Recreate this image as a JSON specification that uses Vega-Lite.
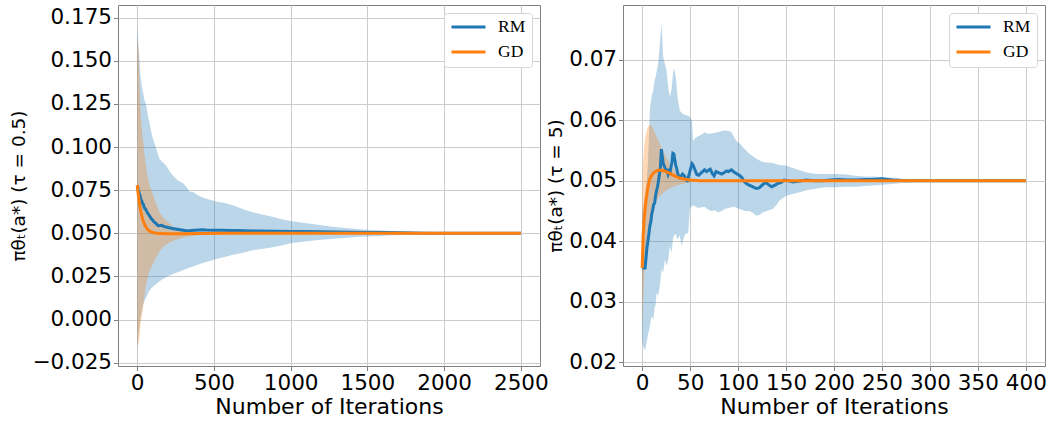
{
"$schema": "https://vega.github.io/schema/vega-lite/v6.json",
"background": "white",
"padding": {"left": 9, "top": 4, "right": 5, "bottom": 3},
"config": {
  "font": "DejaVu Sans",
  "view": {"stroke": "#808080", "strokeWidth": 1},
  "axis": {"labelFont": "DejaVu Sans", "labelFontSize": 21.5, "labelColor": "black", "titleFont": "DejaVu Sans", "titleFontSize": 22, "titleFontWeight": "normal", "titleColor": "black", "tickColor": "#808080", "tickSize": 4.5, "labelPadding": 2, "domain": false, "grid": true, "gridColor": "#cccccc", "gridWidth": 1},
  "legend": {"orient": "top-right", "offset": 8, "symbolType": "stroke", "symbolStrokeWidth": 3, "symbolSize": 1156, "clipHeight": 16, "labelFont": "Liberation Serif", "labelFontSize": 17.5, "labelColor": "black", "padding": 6, "strokeColor": "#d5d5d5", "fillColor": "white", "cornerRadius": 3, "rowPadding": 7, "labelOffset": 11}
},
"datasets": {
  "leftLines": [
    {"s":"RM","t":0,"v":0.0775},{"s":"RM","t":3,"v":0.0770},{"s":"RM","t":6,"v":0.0752},{"s":"RM","t":10,"v":0.0745},{"s":"RM","t":14,"v":0.0728},{"s":"RM","t":18,"v":0.0722},{"s":"RM","t":22,"v":0.0705},{"s":"RM","t":26,"v":0.0693},{"s":"RM","t":30,"v":0.0688},{"s":"RM","t":35,"v":0.0672},{"s":"RM","t":40,"v":0.0668},{"s":"RM","t":45,"v":0.0652},{"s":"RM","t":50,"v":0.0644},{"s":"RM","t":55,"v":0.0640},{"s":"RM","t":60,"v":0.0630},{"s":"RM","t":65,"v":0.0622},{"s":"RM","t":70,"v":0.0614},{"s":"RM","t":75,"v":0.0610},{"s":"RM","t":80,"v":0.0601},{"s":"RM","t":85,"v":0.0595},{"s":"RM","t":90,"v":0.0586},{"s":"RM","t":95,"v":0.0582},{"s":"RM","t":100,"v":0.0578},{"s":"RM","t":105,"v":0.0571},{"s":"RM","t":110,"v":0.0566},{"s":"RM","t":115,"v":0.0563},{"s":"RM","t":120,"v":0.0559},{"s":"RM","t":125,"v":0.0555},{"s":"RM","t":130,"v":0.0549},{"s":"RM","t":135,"v":0.0546},{"s":"RM","t":140,"v":0.0544},{"s":"RM","t":150,"v":0.0545},{"s":"RM","t":160,"v":0.0546},{"s":"RM","t":170,"v":0.0542},{"s":"RM","t":180,"v":0.0538},{"s":"RM","t":190,"v":0.0536},{"s":"RM","t":200,"v":0.0534},{"s":"RM","t":215,"v":0.0531},{"s":"RM","t":230,"v":0.0528},{"s":"RM","t":250,"v":0.0525},{"s":"RM","t":270,"v":0.0522},{"s":"RM","t":290,"v":0.0519},{"s":"RM","t":310,"v":0.0516},{"s":"RM","t":330,"v":0.0515},{"s":"RM","t":350,"v":0.0516},{"s":"RM","t":375,"v":0.0518},{"s":"RM","t":400,"v":0.0519},{"s":"RM","t":425,"v":0.0520},{"s":"RM","t":450,"v":0.0519},{"s":"RM","t":500,"v":0.0518},{"s":"RM","t":550,"v":0.0518},{"s":"RM","t":600,"v":0.0516},{"s":"RM","t":650,"v":0.0516},{"s":"RM","t":700,"v":0.0515},{"s":"RM","t":750,"v":0.0514},{"s":"RM","t":800,"v":0.0513},{"s":"RM","t":900,"v":0.0512},{"s":"RM","t":1000,"v":0.0511},{"s":"RM","t":1100,"v":0.0510},{"s":"RM","t":1200,"v":0.0509},{"s":"RM","t":1300,"v":0.0508},{"s":"RM","t":1400,"v":0.0506},{"s":"RM","t":1500,"v":0.0505},{"s":"RM","t":1600,"v":0.0504},{"s":"RM","t":1700,"v":0.0503},{"s":"RM","t":1800,"v":0.0502},{"s":"RM","t":1900,"v":0.0501},{"s":"RM","t":2000,"v":0.0501},{"s":"RM","t":2200,"v":0.0500},{"s":"RM","t":2500,"v":0.0500},
    {"s":"GD","t":0,"v":0.0780},{"s":"GD","t":3,"v":0.0755},{"s":"GD","t":6,"v":0.0733},{"s":"GD","t":10,"v":0.0705},{"s":"GD","t":15,"v":0.0672},{"s":"GD","t":20,"v":0.0645},{"s":"GD","t":25,"v":0.0622},{"s":"GD","t":30,"v":0.0602},{"s":"GD","t":35,"v":0.0585},{"s":"GD","t":40,"v":0.0570},{"s":"GD","t":50,"v":0.0548},{"s":"GD","t":60,"v":0.0532},{"s":"GD","t":70,"v":0.0521},{"s":"GD","t":80,"v":0.0514},{"s":"GD","t":90,"v":0.0509},{"s":"GD","t":100,"v":0.0505},{"s":"GD","t":115,"v":0.0502},{"s":"GD","t":130,"v":0.0500},{"s":"GD","t":150,"v":0.0499},{"s":"GD","t":200,"v":0.0497},{"s":"GD","t":300,"v":0.0498},{"s":"GD","t":400,"v":0.0499},{"s":"GD","t":600,"v":0.0500},{"s":"GD","t":2500,"v":0.0500}
  ],
  "leftBands": [
    {"s":"RM","t":0,"lo":-0.018,"hi":0.170},{"s":"RM","t":3,"lo":-0.015,"hi":0.166},{"s":"RM","t":6,"lo":-0.011,"hi":0.161},{"s":"RM","t":11,"lo":-0.0065,"hi":0.155},{"s":"RM","t":16,"lo":-0.002,"hi":0.149},{"s":"RM","t":20,"lo":0.000,"hi":0.143},{"s":"RM","t":26,"lo":0.0032,"hi":0.138},{"s":"RM","t":32,"lo":0.006,"hi":0.134},{"s":"RM","t":37,"lo":0.008,"hi":0.132},{"s":"RM","t":48,"lo":0.0109,"hi":0.127},{"s":"RM","t":59,"lo":0.013,"hi":0.124},{"s":"RM","t":70,"lo":0.015,"hi":0.118},{"s":"RM","t":80,"lo":0.0167,"hi":0.114},{"s":"RM","t":91,"lo":0.018,"hi":0.109},{"s":"RM","t":102,"lo":0.019,"hi":0.105},{"s":"RM","t":113,"lo":0.0198,"hi":0.102},{"s":"RM","t":124,"lo":0.0206,"hi":0.099},{"s":"RM","t":135,"lo":0.0215,"hi":0.096},{"s":"RM","t":146,"lo":0.0222,"hi":0.093},{"s":"RM","t":167,"lo":0.0235,"hi":0.091},{"s":"RM","t":189,"lo":0.0245,"hi":0.0893},{"s":"RM","t":211,"lo":0.0255,"hi":0.086},{"s":"RM","t":233,"lo":0.0264,"hi":0.0835},{"s":"RM","t":265,"lo":0.0275,"hi":0.0806},{"s":"RM","t":300,"lo":0.0288,"hi":0.0790},{"s":"RM","t":320,"lo":0.0293,"hi":0.0770},{"s":"RM","t":340,"lo":0.0300,"hi":0.0742},{"s":"RM","t":363,"lo":0.0308,"hi":0.0740},{"s":"RM","t":407,"lo":0.0322,"hi":0.0715},{"s":"RM","t":450,"lo":0.0333,"hi":0.0700},{"s":"RM","t":515,"lo":0.0351,"hi":0.0685},{"s":"RM","t":570,"lo":0.0363,"hi":0.0675},{"s":"RM","t":624,"lo":0.0376,"hi":0.0662},{"s":"RM","t":690,"lo":0.0388,"hi":0.0640},{"s":"RM","t":743,"lo":0.0400,"hi":0.0625},{"s":"RM","t":800,"lo":0.0408,"hi":0.0612},{"s":"RM","t":874,"lo":0.0418,"hi":0.0597},{"s":"RM","t":940,"lo":0.0430,"hi":0.0582},{"s":"RM","t":1000,"lo":0.0442,"hi":0.0571},{"s":"RM","t":1090,"lo":0.0452,"hi":0.0560},{"s":"RM","t":1178,"lo":0.0461,"hi":0.0550},{"s":"RM","t":1260,"lo":0.0467,"hi":0.0540},{"s":"RM","t":1352,"lo":0.0473,"hi":0.0531},{"s":"RM","t":1420,"lo":0.0478,"hi":0.0526},{"s":"RM","t":1500,"lo":0.0482,"hi":0.0521},{"s":"RM","t":1580,"lo":0.0485,"hi":0.0517},{"s":"RM","t":1657,"lo":0.0488,"hi":0.0514},{"s":"RM","t":1740,"lo":0.0490,"hi":0.0511},{"s":"RM","t":1830,"lo":0.0492,"hi":0.0508},{"s":"RM","t":1920,"lo":0.0494,"hi":0.0506},{"s":"RM","t":2000,"lo":0.0496,"hi":0.0505},{"s":"RM","t":2100,"lo":0.0497,"hi":0.0503},{"s":"RM","t":2200,"lo":0.0498,"hi":0.0502},{"s":"RM","t":2350,"lo":0.0499,"hi":0.0501},{"s":"RM","t":2500,"lo":0.0500,"hi":0.0500},
    {"s":"GD","t":0,"lo":-0.010,"hi":0.163},{"s":"GD","t":3,"lo":-0.014,"hi":0.161},{"s":"GD","t":6,"lo":-0.015,"hi":0.159},{"s":"GD","t":9,"lo":-0.014,"hi":0.155},{"s":"GD","t":12,"lo":-0.012,"hi":0.146},{"s":"GD","t":15,"lo":-0.010,"hi":0.136},{"s":"GD","t":20,"lo":-0.005,"hi":0.124},{"s":"GD","t":25,"lo":-0.001,"hi":0.116},{"s":"GD","t":32,"lo":0.003,"hi":0.109},{"s":"GD","t":37,"lo":0.006,"hi":0.105},{"s":"GD","t":45,"lo":0.012,"hi":0.098},{"s":"GD","t":50,"lo":0.015,"hi":0.094},{"s":"GD","t":63,"lo":0.0225,"hi":0.085},{"s":"GD","t":80,"lo":0.028,"hi":0.078},{"s":"GD","t":102,"lo":0.032,"hi":0.0728},{"s":"GD","t":124,"lo":0.036,"hi":0.067},{"s":"GD","t":146,"lo":0.0395,"hi":0.0622},{"s":"GD","t":167,"lo":0.042,"hi":0.0595},{"s":"GD","t":189,"lo":0.0433,"hi":0.0573},{"s":"GD","t":233,"lo":0.0457,"hi":0.0539},{"s":"GD","t":298,"lo":0.0475,"hi":0.0515},{"s":"GD","t":363,"lo":0.0486,"hi":0.0506},{"s":"GD","t":450,"lo":0.0494,"hi":0.0502},{"s":"GD","t":550,"lo":0.0498,"hi":0.0500},{"s":"GD","t":700,"lo":0.0500,"hi":0.0500},{"s":"GD","t":2500,"lo":0.0500,"hi":0.0500}
  ],
  "rightLines": [
    {"s":"RM","t":0,"v":0.0356},{"s":"RM","t":3,"v":0.0356},{"s":"RM","t":4,"v":0.0372},{"s":"RM","t":5,"v":0.0390},{"s":"RM","t":6,"v":0.0400},{"s":"RM","t":7,"v":0.0412},{"s":"RM","t":8,"v":0.0425},{"s":"RM","t":9,"v":0.0432},{"s":"RM","t":10,"v":0.0445},{"s":"RM","t":11,"v":0.0452},{"s":"RM","t":12,"v":0.0461},{"s":"RM","t":13,"v":0.0463},{"s":"RM","t":14,"v":0.0476},{"s":"RM","t":15,"v":0.0483},{"s":"RM","t":16,"v":0.0490},{"s":"RM","t":17,"v":0.0500},{"s":"RM","t":18,"v":0.0510},{"s":"RM","t":19,"v":0.0522},{"s":"RM","t":20,"v":0.0552},{"s":"RM","t":21,"v":0.0540},{"s":"RM","t":22,"v":0.0528},{"s":"RM","t":23,"v":0.0524},{"s":"RM","t":24,"v":0.0520},{"s":"RM","t":25,"v":0.0518},{"s":"RM","t":26,"v":0.0517},{"s":"RM","t":27,"v":0.0511},{"s":"RM","t":28,"v":0.0516},{"s":"RM","t":29,"v":0.0514},{"s":"RM","t":30,"v":0.0522},{"s":"RM","t":31,"v":0.0530},{"s":"RM","t":32,"v":0.0545},{"s":"RM","t":33,"v":0.0544},{"s":"RM","t":34,"v":0.0535},{"s":"RM","t":35,"v":0.0525},{"s":"RM","t":36,"v":0.0520},{"s":"RM","t":37,"v":0.0512},{"s":"RM","t":38,"v":0.0508},{"s":"RM","t":39,"v":0.0505},{"s":"RM","t":40,"v":0.0506},{"s":"RM","t":42,"v":0.0511},{"s":"RM","t":44,"v":0.0508},{"s":"RM","t":46,"v":0.0501},{"s":"RM","t":47,"v":0.0500},{"s":"RM","t":48,"v":0.0505},{"s":"RM","t":50,"v":0.0517},{"s":"RM","t":52,"v":0.0528},{"s":"RM","t":53,"v":0.0526},{"s":"RM","t":55,"v":0.0518},{"s":"RM","t":57,"v":0.0510},{"s":"RM","t":59,"v":0.0509},{"s":"RM","t":61,"v":0.0512},{"s":"RM","t":63,"v":0.0515},{"s":"RM","t":65,"v":0.0518},{"s":"RM","t":67,"v":0.0515},{"s":"RM","t":69,"v":0.0517},{"s":"RM","t":71,"v":0.0519},{"s":"RM","t":73,"v":0.0512},{"s":"RM","t":75,"v":0.0508},{"s":"RM","t":77,"v":0.0515},{"s":"RM","t":80,"v":0.0513},{"s":"RM","t":83,"v":0.0511},{"s":"RM","t":86,"v":0.0514},{"s":"RM","t":88,"v":0.0516},{"s":"RM","t":90,"v":0.0515},{"s":"RM","t":93,"v":0.0518},{"s":"RM","t":96,"v":0.0514},{"s":"RM","t":99,"v":0.0511},{"s":"RM","t":102,"v":0.0508},{"s":"RM","t":104,"v":0.0505},{"s":"RM","t":106,"v":0.0499},{"s":"RM","t":109,"v":0.0495},{"s":"RM","t":112,"v":0.0492},{"s":"RM","t":115,"v":0.0490},{"s":"RM","t":119,"v":0.0487},{"s":"RM","t":122,"v":0.0488},{"s":"RM","t":126,"v":0.0494},{"s":"RM","t":129,"v":0.0497},{"s":"RM","t":132,"v":0.0493},{"s":"RM","t":135,"v":0.0490},{"s":"RM","t":138,"v":0.0492},{"s":"RM","t":141,"v":0.0495},{"s":"RM","t":145,"v":0.0497},{"s":"RM","t":148,"v":0.0501},{"s":"RM","t":152,"v":0.0500},{"s":"RM","t":157,"v":0.0498},{"s":"RM","t":163,"v":0.0499},{"s":"RM","t":171,"v":0.0501},{"s":"RM","t":180,"v":0.0500},{"s":"RM","t":188,"v":0.0500},{"s":"RM","t":196,"v":0.0501},{"s":"RM","t":205,"v":0.0502},{"s":"RM","t":214,"v":0.0501},{"s":"RM","t":223,"v":0.0501},{"s":"RM","t":232,"v":0.0502},{"s":"RM","t":240,"v":0.0502},{"s":"RM","t":250,"v":0.0503},{"s":"RM","t":261,"v":0.0501},{"s":"RM","t":275,"v":0.0500},{"s":"RM","t":300,"v":0.0500},{"s":"RM","t":400,"v":0.0500},
    {"s":"GD","t":0,"v":0.0356},{"s":"GD","t":1,"v":0.0409},{"s":"GD","t":2,"v":0.0435},{"s":"GD","t":3,"v":0.0453},{"s":"GD","t":4,"v":0.0467},{"s":"GD","t":5,"v":0.0479},{"s":"GD","t":6,"v":0.0489},{"s":"GD","t":7,"v":0.0497},{"s":"GD","t":8,"v":0.0503},{"s":"GD","t":10,"v":0.0509},{"s":"GD","t":12,"v":0.0513},{"s":"GD","t":14,"v":0.0515},{"s":"GD","t":16,"v":0.0517},{"s":"GD","t":18,"v":0.0517},{"s":"GD","t":20,"v":0.0517},{"s":"GD","t":23,"v":0.0516},{"s":"GD","t":26,"v":0.0514},{"s":"GD","t":29,"v":0.0512},{"s":"GD","t":32,"v":0.0509},{"s":"GD","t":35,"v":0.0507},{"s":"GD","t":38,"v":0.0505},{"s":"GD","t":42,"v":0.0503},{"s":"GD","t":46,"v":0.0502},{"s":"GD","t":50,"v":0.0501},{"s":"GD","t":60,"v":0.0500},{"s":"GD","t":400,"v":0.0500}
  ],
  "rightBands": [
    {"s":"RM","t":0,"lo":0.0235,"hi":0.0440},{"s":"RM","t":1,"lo":0.0228,"hi":0.0455},{"s":"RM","t":2,"lo":0.0222,"hi":0.0465},{"s":"RM","t":3,"lo":0.0221,"hi":0.0475},{"s":"RM","t":4,"lo":0.0228,"hi":0.0490},{"s":"RM","t":5,"lo":0.0236,"hi":0.0505},{"s":"RM","t":6,"lo":0.0246,"hi":0.0530},{"s":"RM","t":7,"lo":0.0252,"hi":0.0570},{"s":"RM","t":8,"lo":0.0260,"hi":0.0616},{"s":"RM","t":9,"lo":0.0270,"hi":0.0630},{"s":"RM","t":10,"lo":0.0276,"hi":0.0640},{"s":"RM","t":11.5,"lo":0.0270,"hi":0.0649},{"s":"RM","t":13,"lo":0.0290,"hi":0.0665},{"s":"RM","t":14,"lo":0.0295,"hi":0.0671},{"s":"RM","t":15,"lo":0.0315,"hi":0.0680},{"s":"RM","t":16.7,"lo":0.0310,"hi":0.0693},{"s":"RM","t":18.4,"lo":0.0326,"hi":0.0726},{"s":"RM","t":20.2,"lo":0.0354,"hi":0.0759},{"s":"RM","t":21.9,"lo":0.0348,"hi":0.0704},{"s":"RM","t":23.6,"lo":0.0370,"hi":0.0693},{"s":"RM","t":25.4,"lo":0.0360,"hi":0.0682},{"s":"RM","t":27.1,"lo":0.0370,"hi":0.0654},{"s":"RM","t":28.9,"lo":0.0392,"hi":0.0638},{"s":"RM","t":30.6,"lo":0.0381,"hi":0.0650},{"s":"RM","t":32.3,"lo":0.0406,"hi":0.0680},{"s":"RM","t":33.4,"lo":0.0410,"hi":0.0685},{"s":"RM","t":35.1,"lo":0.0412,"hi":0.0671},{"s":"RM","t":36.8,"lo":0.0403,"hi":0.0638},{"s":"RM","t":39.2,"lo":0.0410,"hi":0.0616},{"s":"RM","t":41,"lo":0.0392,"hi":0.0612},{"s":"RM","t":42.7,"lo":0.0403,"hi":0.0610},{"s":"RM","t":44.4,"lo":0.0410,"hi":0.0609},{"s":"RM","t":46.2,"lo":0.0414,"hi":0.0608},{"s":"RM","t":47.9,"lo":0.0412,"hi":0.0607},{"s":"RM","t":49.7,"lo":0.0453,"hi":0.0605},{"s":"RM","t":52,"lo":0.0459,"hi":0.0599},{"s":"RM","t":53,"lo":0.0459,"hi":0.0565},{"s":"RM","t":55,"lo":0.0458,"hi":0.0570},{"s":"RM","t":58,"lo":0.0455,"hi":0.0573},{"s":"RM","t":62,"lo":0.0456,"hi":0.0576},{"s":"RM","t":65,"lo":0.0457,"hi":0.0580},{"s":"RM","t":69,"lo":0.0452,"hi":0.0577},{"s":"RM","t":72,"lo":0.0450,"hi":0.0578},{"s":"RM","t":76,"lo":0.0451,"hi":0.0579},{"s":"RM","t":79,"lo":0.0448,"hi":0.0580},{"s":"RM","t":83,"lo":0.0450,"hi":0.0582},{"s":"RM","t":86,"lo":0.0453,"hi":0.0583},{"s":"RM","t":90,"lo":0.0455,"hi":0.0582},{"s":"RM","t":93,"lo":0.0456,"hi":0.0580},{"s":"RM","t":96.5,"lo":0.0457,"hi":0.0570},{"s":"RM","t":98,"lo":0.0455,"hi":0.0566},{"s":"RM","t":102,"lo":0.0453,"hi":0.0561},{"s":"RM","t":107,"lo":0.0450,"hi":0.0552},{"s":"RM","t":112,"lo":0.0450,"hi":0.0544},{"s":"RM","t":116,"lo":0.0446,"hi":0.0540},{"s":"RM","t":119,"lo":0.0442,"hi":0.0536},{"s":"RM","t":123,"lo":0.0444,"hi":0.0533},{"s":"RM","t":126,"lo":0.0448,"hi":0.0531},{"s":"RM","t":130,"lo":0.0450,"hi":0.0530},{"s":"RM","t":136,"lo":0.0453,"hi":0.0529},{"s":"RM","t":140,"lo":0.0460,"hi":0.0527},{"s":"RM","t":143,"lo":0.0467,"hi":0.0526},{"s":"RM","t":150,"lo":0.0475,"hi":0.0525},{"s":"RM","t":157,"lo":0.0478,"hi":0.0521},{"s":"RM","t":164,"lo":0.0481,"hi":0.0517},{"s":"RM","t":171,"lo":0.0484,"hi":0.0514},{"s":"RM","t":178,"lo":0.0486,"hi":0.0512},{"s":"RM","t":185,"lo":0.0488,"hi":0.0511},{"s":"RM","t":192,"lo":0.0489,"hi":0.0511},{"s":"RM","t":202,"lo":0.0489,"hi":0.0511},{"s":"RM","t":212,"lo":0.0490,"hi":0.0510},{"s":"RM","t":223,"lo":0.0490,"hi":0.0508},{"s":"RM","t":232,"lo":0.0491,"hi":0.0507},{"s":"RM","t":240,"lo":0.0492,"hi":0.0507},{"s":"RM","t":247,"lo":0.0493,"hi":0.0506},{"s":"RM","t":257,"lo":0.0494,"hi":0.0505},{"s":"RM","t":264,"lo":0.0495,"hi":0.0505},{"s":"RM","t":275,"lo":0.0497,"hi":0.0502},{"s":"RM","t":285,"lo":0.0498,"hi":0.0501},{"s":"RM","t":292,"lo":0.0499,"hi":0.0500},{"s":"RM","t":300,"lo":0.0500,"hi":0.0500},{"s":"RM","t":400,"lo":0.0500,"hi":0.0500},
    {"s":"GD","t":0,"lo":0.0260,"hi":0.0470},{"s":"GD","t":1,"lo":0.0300,"hi":0.0530},{"s":"GD","t":2,"lo":0.0340,"hi":0.0555},{"s":"GD","t":3,"lo":0.0370,"hi":0.0570},{"s":"GD","t":5,"lo":0.0400,"hi":0.0585},{"s":"GD","t":7,"lo":0.0425,"hi":0.0591},{"s":"GD","t":8,"lo":0.0433,"hi":0.0593},{"s":"GD","t":10,"lo":0.0450,"hi":0.0590},{"s":"GD","t":12,"lo":0.0458,"hi":0.0583},{"s":"GD","t":14,"lo":0.0464,"hi":0.0576},{"s":"GD","t":17,"lo":0.0472,"hi":0.0566},{"s":"GD","t":20,"lo":0.0477,"hi":0.0555},{"s":"GD","t":24,"lo":0.0483,"hi":0.0542},{"s":"GD","t":27,"lo":0.0486,"hi":0.0533},{"s":"GD","t":30,"lo":0.0488,"hi":0.0525},{"s":"GD","t":34,"lo":0.0491,"hi":0.0517},{"s":"GD","t":38,"lo":0.0493,"hi":0.0510},{"s":"GD","t":42,"lo":0.0495,"hi":0.0506},{"s":"GD","t":48,"lo":0.0497,"hi":0.0502},{"s":"GD","t":55,"lo":0.0499,"hi":0.0501},{"s":"GD","t":70,"lo":0.0500,"hi":0.0500},{"s":"GD","t":400,"lo":0.0500,"hi":0.0500}
  ]
},
"spacing": 83,
"bounds": "flush",
"resolve": {"scale": {"color": "independent", "x": "independent", "y": "independent"}, "legend": {"color": "independent"}},
"hconcat": [
  {
    "width": 422, "height": 361,
    "encoding": {
      "x": {"field": "t", "type": "quantitative", "scale": {"domain": [-125, 2625], "nice": false, "zero": false}, "axis": {"title": "Number of Iterations", "values": [0, 500, 1000, 1500, 2000, 2500], "format": "d", "titlePadding": 2}}
    },
    "layer": [
      {"data": {"name": "leftBands"}, "transform": [{"filter": "datum.s === 'RM'"}], "mark": {"type": "area", "color": "#1f77b4", "fillOpacity": 0.3, "clip": true},
       "encoding": {"y": {"field": "lo", "type": "quantitative", "scale": {"domain": [-0.0269, 0.1823], "nice": false, "zero": false}, "axis": {"title": "πθₜ(a*) (τ = 0.5)", "titleFontSize": 18.5, "values": [-0.025, 0, 0.025, 0.05, 0.075, 0.1, 0.125, 0.15, 0.175], "format": ".3f", "titlePadding": 3}}, "y2": {"field": "hi"}}},
      {"data": {"name": "leftBands"}, "transform": [{"filter": "datum.s === 'GD'"}], "mark": {"type": "area", "color": "#ff7f0e", "fillOpacity": 0.3, "clip": true},
       "encoding": {"y": {"field": "lo", "type": "quantitative"}, "y2": {"field": "hi"}}},
      {"data": {"name": "leftLines"}, "transform": [{"filter": "datum.s === 'RM'"}], "mark": {"type": "line", "strokeWidth": 3, "clip": true},
       "encoding": {"y": {"field": "v", "type": "quantitative"}, "color": {"field": "s", "type": "nominal", "scale": {"domain": ["RM", "GD"], "range": ["#1f77b4", "#ff7f0e"]}, "legend": {"title": null}}}},
      {"data": {"name": "leftLines"}, "transform": [{"filter": "datum.s === 'GD'"}], "mark": {"type": "line", "strokeWidth": 3, "clip": true},
       "encoding": {"y": {"field": "v", "type": "quantitative"}, "color": {"field": "s", "type": "nominal", "scale": {"domain": ["RM", "GD"], "range": ["#1f77b4", "#ff7f0e"]}, "legend": {"title": null}}}}
    ]
  },
  {
    "width": 422, "height": 361,
    "encoding": {
      "x": {"field": "t", "type": "quantitative", "scale": {"domain": [-20, 420], "nice": false, "zero": false}, "axis": {"title": "Number of Iterations", "values": [0, 50, 100, 150, 200, 250, 300, 350, 400], "format": "d", "titlePadding": 2}}
    },
    "layer": [
      {"data": {"name": "rightBands"}, "transform": [{"filter": "datum.s === 'RM'"}], "mark": {"type": "area", "color": "#1f77b4", "fillOpacity": 0.3, "clip": true},
       "encoding": {"y": {"field": "lo", "type": "quantitative", "scale": {"domain": [0.0194, 0.0790], "nice": false, "zero": false}, "axis": {"title": "πθₜ(a*) (τ = 5)", "titleFontSize": 18.5, "values": [0.02, 0.03, 0.04, 0.05, 0.06, 0.07], "format": ".2f", "titlePadding": 3}}, "y2": {"field": "hi"}}},
      {"data": {"name": "rightBands"}, "transform": [{"filter": "datum.s === 'GD'"}], "mark": {"type": "area", "color": "#ff7f0e", "fillOpacity": 0.3, "clip": true},
       "encoding": {"y": {"field": "lo", "type": "quantitative"}, "y2": {"field": "hi"}}},
      {"data": {"name": "rightLines"}, "transform": [{"filter": "datum.s === 'RM'"}], "mark": {"type": "line", "strokeWidth": 3, "clip": true},
       "encoding": {"y": {"field": "v", "type": "quantitative"}, "color": {"field": "s", "type": "nominal", "scale": {"domain": ["RM", "GD"], "range": ["#1f77b4", "#ff7f0e"]}, "legend": {"title": null}}}},
      {"data": {"name": "rightLines"}, "transform": [{"filter": "datum.s === 'GD'"}], "mark": {"type": "line", "strokeWidth": 3, "clip": true},
       "encoding": {"y": {"field": "v", "type": "quantitative"}, "color": {"field": "s", "type": "nominal", "scale": {"domain": ["RM", "GD"], "range": ["#1f77b4", "#ff7f0e"]}, "legend": {"title": null}}}}
    ]
  }
]
}
